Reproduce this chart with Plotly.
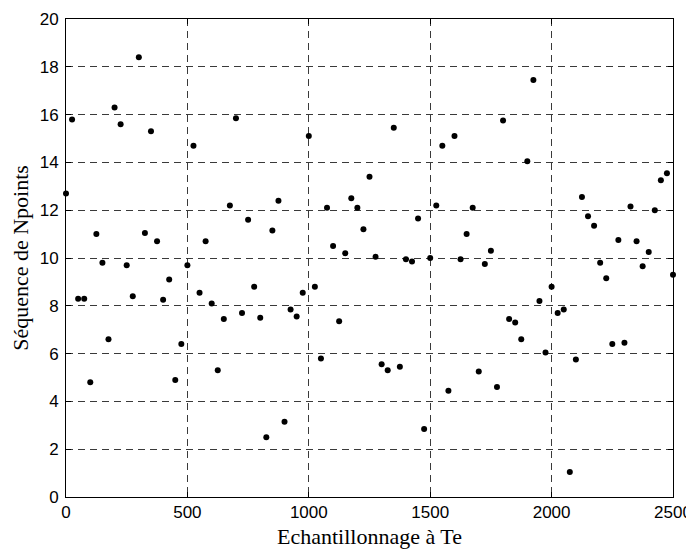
import plotly.graph_objects as go

x_vals = list(range(0, 2501, 25))
y_vals = [
    12.7, 15.8, 8.3, 8.3, 4.8, 11.0, 9.8, 6.6, 16.3, 15.6,
    9.7, 8.4, 18.4, 11.05, 15.3, 10.7, 8.25, 9.1, 4.9, 6.4,
    9.7, 14.7, 8.55, 10.7, 8.1, 5.3, 7.45, 12.2, 15.85, 7.7,
    11.6, 8.8, 7.5, 2.5, 11.15, 12.4, 3.15, 7.85, 7.55, 8.55,
    15.1, 8.8, 5.8, 12.1, 10.5, 7.35, 10.2, 12.5, 12.1, 11.2,
    13.4, 10.05, 5.55, 5.3, 15.45, 5.45, 9.95, 9.85, 11.65, 2.85,
    10.0, 12.2, 14.7, 4.45, 15.1, 9.95, 11.0, 12.1, 5.25, 9.75,
    10.3, 4.6, 15.75, 7.45, 7.3, 6.6, 14.05, 17.45, 8.2, 6.05,
    8.8, 7.7, 7.85, 1.05, 5.75, 12.55, 11.75, 11.35, 9.8, 9.15,
    6.4, 10.75, 6.45, 12.15, 10.7, 9.65, 10.25, 12.0, 13.25, 13.55,
    9.3,
]
x_ticks = [0, 500, 1000, 1500, 2000, 2500]
y_ticks = [0, 2, 4, 6, 8, 10, 12, 14, 16, 18, 20]
x_title = "Echantillonnage à Te"
y_title = "Séquence de Npoints"

fig = go.Figure(go.Scatter(
    x=x_vals, y=y_vals, mode="markers",
    marker=dict(color="black", size=6),
    cliponaxis=False, showlegend=False,
))

axis_common = dict(
    showline=True, linecolor="black", linewidth=1, mirror="ticks",
    ticks="inside", ticklen=5, tickcolor="black",
    showgrid=True, gridcolor="#3a3a3a", gridwidth=1, griddash="7px,5px",
    zeroline=False, automargin=False,
    tickfont=dict(family="Liberation Sans, Arial", size=17, color="black"),
)
title_font = dict(family="Liberation Serif, Times New Roman", size=22, color="black")

fig.update_xaxes(range=[0, 2500], tickvals=x_ticks, **axis_common,
                 title=dict(text=x_title, standoff=7, font=title_font))
fig.update_yaxes(range=[0, 20], tickvals=y_ticks, ticklabelstandoff=3, **axis_common,
                 title=dict(text=y_title, standoff=10, font=title_font))

# the page body adds an 8px margin, so the figure is sized to fit the window
fig.update_layout(
    width=686, height=549,
    margin=dict(l=58, r=21, t=11, b=60),
    paper_bgcolor="white", plot_bgcolor="white",
)

fig.write_html("out.html")
